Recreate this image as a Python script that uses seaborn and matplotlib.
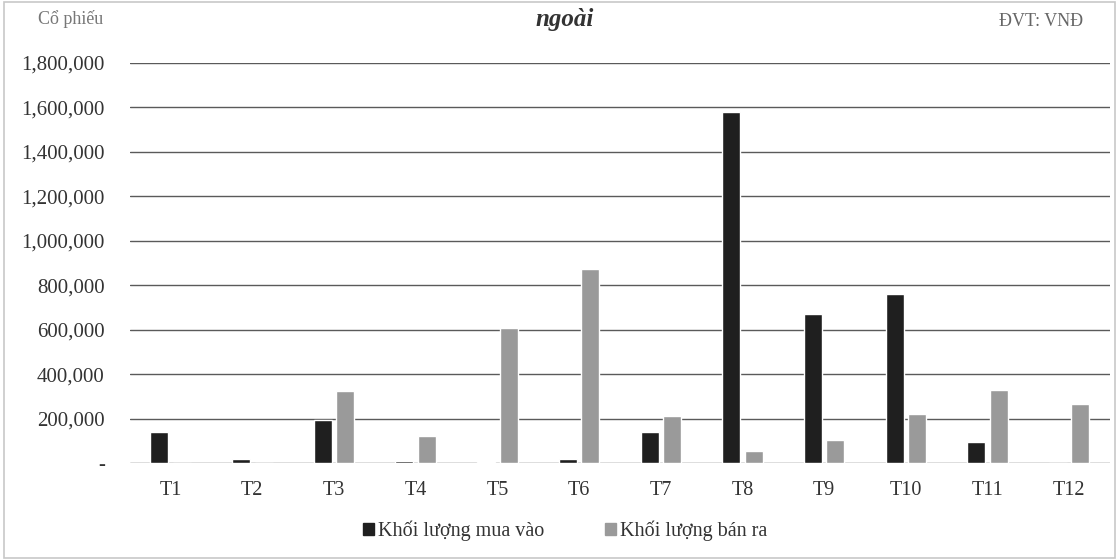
import pandas as pd
import matplotlib
matplotlib.use('Agg')
import matplotlib.pyplot as plt
import seaborn as sns
from matplotlib.ticker import FuncFormatter
from matplotlib.patches import Rectangle

# Data (shares per month)
months = ['T1', 'T2', 'T3', 'T4', 'T5', 'T6', 'T7', 'T8', 'T9', 'T10', 'T11', 'T12']
buy_volume = [140000, 20000, 195000, 8000, 3000, 20000, 140000, 1580000, 670000, 760000, 95000, 0]
sell_volume = [2000, 2000, 325000, 120000, 610000, 875000, 210000, 55000, 105000, 220000, 330000, 265000]
series_names = ['Khối lượng mua vào', 'Khối lượng bán ra']
y_ticks = [0, 200000, 400000, 600000, 800000, 1000000, 1200000, 1400000, 1600000, 1800000]

df = pd.DataFrame({
    'month': months * 2,
    'value': buy_volume + sell_volume,
    'series': [series_names[0]] * len(months) + [series_names[1]] * len(months),
})

sns.set_theme(style='white')
plt.rcParams['font.family'] = ['Liberation Serif', 'DejaVu Serif']

fig = plt.figure(figsize=(11.19, 5.6), dpi=100)
ax = fig.add_axes([0.116, 0.173, 0.876, 0.7145])

sns.barplot(data=df, x='month', y='value', hue='series', order=months,
            hue_order=series_names, palette=['#1f1f1f', '#9a9a9a'],
            width=0.55, gap=0.2, ax=ax, legend=False)

ax.set_ylim(0, 1800000)
ax.set_yticks(y_ticks)
ax.yaxis.set_major_formatter(FuncFormatter(lambda v, p: '-' if v == 0 else f'{int(v):,}'))
ax.grid(axis='y', color='#5a5a5a', linewidth=1.0)
ax.set_axisbelow(True)
for s in ax.spines.values():
    s.set_visible(False)
ax.tick_params(axis='y', length=0, labelsize=15, colors='#333333', pad=18)
ax.tick_params(axis='x', length=0, labelsize=14.5, colors='#333333', pad=13)
ax.set_xlabel('')
ax.set_ylabel('')

# header texts
fig.text(0.034, 0.966, 'Cổ phiếu', fontsize=13, color='#777777', ha='left', va='center')
fig.text(0.505, 0.966, 'ngoài', fontsize=18, fontweight='bold', fontstyle='italic',
         color='#333333', ha='center', va='center')
fig.text(0.93, 0.962, 'ĐVT: VNĐ', fontsize=13, color='#666666', ha='center', va='center')

# legend
handles = [Rectangle((0, 0), 1, 1, color=c) for c in ['#1f1f1f', '#9a9a9a']]
fig.legend(handles, series_names, loc='center', bbox_to_anchor=(0.505, 0.052),
           ncol=2, frameon=False, fontsize=14.5, handlelength=0.55, handleheight=0.55,
           handletextpad=0.2, columnspacing=3.0, labelcolor='#333333')

# chart frame
fig.patches.append(Rectangle((0.004, 0.003), 0.992, 0.994, transform=fig.transFigure,
                             fill=False, edgecolor='#c8c8c8', linewidth=1.2))

fig.savefig('out.png', dpi=100)
